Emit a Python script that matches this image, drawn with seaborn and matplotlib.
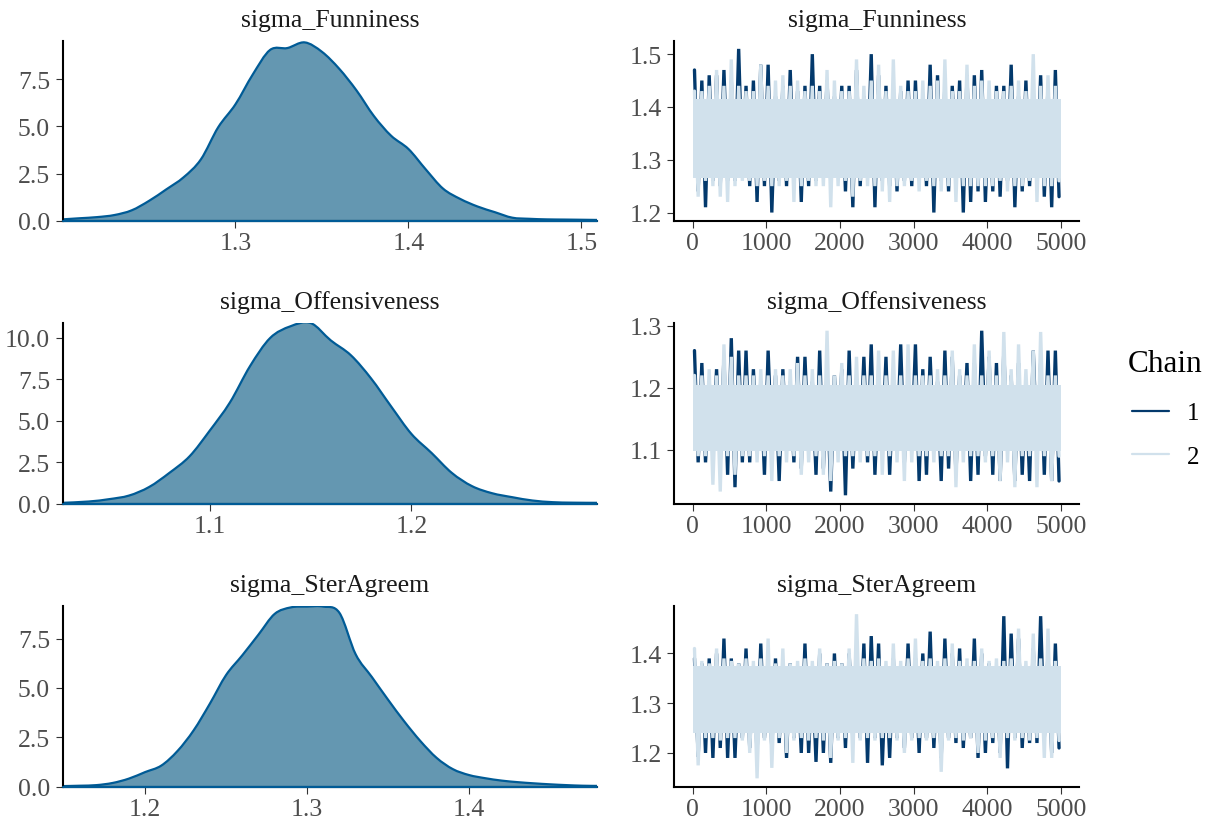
import numpy as np
import pandas as pd
import matplotlib
matplotlib.use("Agg")
import matplotlib.pyplot as plt
import seaborn as sns
from matplotlib.lines import Line2D
from matplotlib.path import Path
from matplotlib.patches import PathPatch
from matplotlib.ticker import FormatStrFormatter, FixedLocator, MultipleLocator

# ---------------- data ----------------
PARAMS = ["sigma_Funniness", "sigma_Offensiveness", "sigma_SterAgreem"]
CHAINS = ["1", "2"]
N_ITER = 5000
BIN = 100  # iterations per envelope bin

# posterior density curves (parameter value, density height)
dens_x_fun = [1.200, 1.21, 1.22, 1.23, 1.24, 1.25, 1.26, 1.27, 1.28, 1.29, 1.30,
              1.31, 1.32, 1.33, 1.34, 1.35, 1.36, 1.37, 1.38, 1.39, 1.40,
              1.41, 1.42, 1.43, 1.44, 1.45, 1.46, 1.47, 1.48, 1.49, 1.50, 1.509]
dens_y_fun = [0.07, 0.13, 0.19, 0.30, 0.55, 1.05, 1.66, 2.30, 3.25, 4.95, 6.17,
              7.75, 9.05, 9.15, 9.45, 8.95, 8.05, 6.90, 5.55, 4.50, 3.80,
              2.72, 1.70, 1.15, 0.75, 0.45, 0.16, 0.10, 0.07, 0.06, 0.05, 0.04]

dens_x_off = [1.027, 1.04, 1.05, 1.06, 1.07, 1.08, 1.09, 1.10, 1.11, 1.12, 1.13,
              1.14, 1.15, 1.16, 1.17, 1.18, 1.19, 1.20, 1.21, 1.22, 1.23,
              1.24, 1.25, 1.26, 1.27, 1.28, 1.292]
dens_y_off = [0.04, 0.12, 0.26, 0.48, 1.00, 1.85, 2.85, 4.40, 6.10, 8.30, 10.00,
              10.70, 10.90, 9.85, 8.95, 7.55, 5.85, 4.20, 3.05, 1.85, 1.05,
              0.62, 0.38, 0.18, 0.08, 0.05, 0.04]

dens_x_ster = [1.149, 1.16, 1.17, 1.18, 1.19, 1.20, 1.21, 1.22, 1.23, 1.24, 1.25,
               1.26, 1.27, 1.28, 1.29, 1.30, 1.31, 1.32, 1.33, 1.34, 1.35,
               1.36, 1.37, 1.38, 1.39, 1.40, 1.41, 1.42, 1.43, 1.44, 1.45,
               1.46, 1.47, 1.479]
dens_y_ster = [0.02, 0.04, 0.07, 0.18, 0.40, 0.73, 1.06, 1.80, 2.85, 4.20, 5.65,
               6.65, 7.70, 8.75, 9.08, 9.12, 9.12, 8.80, 6.70, 5.55, 4.40,
               3.30, 2.30, 1.45, 0.88, 0.58, 0.42, 0.30, 0.22, 0.16, 0.11,
               0.07, 0.04, 0.03]

dens_xticks = [[1.3, 1.4, 1.5], [1.1, 1.2], [1.2, 1.3, 1.4]]
dens_ymax = [9.54, 10.93, 9.15]

# trace plots: per 100-iteration bin, the highest / lowest draw of each chain,
# plus the dense central band that both chains fill
fun_c1_hi = [1.47, 1.45, 1.46, 1.46, 1.47, 1.45, 1.51, 1.44, 1.45, 1.48,
             1.48, 1.42, 1.44, 1.47, 1.43, 1.44, 1.50, 1.44, 1.45, 1.42,
             1.44, 1.44, 1.47, 1.42, 1.50, 1.46, 1.44, 1.42, 1.43, 1.45,
             1.45, 1.42, 1.48, 1.46, 1.44, 1.44, 1.45, 1.46, 1.46, 1.47,
             1.42, 1.44, 1.44, 1.48, 1.42, 1.45, 1.42, 1.46, 1.44, 1.47]
fun_c1_lo = [1.24, 1.21, 1.26, 1.25, 1.26, 1.26, 1.27, 1.25, 1.22, 1.25,
             1.20, 1.26, 1.25, 1.26, 1.22, 1.25, 1.26, 1.27, 1.26, 1.27,
             1.24, 1.21, 1.25, 1.27, 1.21, 1.26, 1.25, 1.24, 1.26, 1.25,
             1.27, 1.25, 1.20, 1.26, 1.24, 1.27, 1.20, 1.22, 1.24, 1.22,
             1.24, 1.23, 1.26, 1.21, 1.24, 1.25, 1.26, 1.23, 1.21, 1.23]
fun_c2_hi = [1.43, 1.43, 1.44, 1.47, 1.44, 1.49, 1.44, 1.43, 1.43, 1.48,
             1.44, 1.45, 1.46, 1.44, 1.45, 1.43, 1.44, 1.43, 1.47, 1.45,
             1.43, 1.43, 1.49, 1.44, 1.45, 1.48, 1.43, 1.49, 1.44, 1.43,
             1.43, 1.45, 1.44, 1.45, 1.49, 1.43, 1.43, 1.48, 1.44, 1.45,
             1.45, 1.43, 1.43, 1.44, 1.45, 1.43, 1.50, 1.44, 1.46, 1.44]
fun_c2_lo = [1.23, 1.26, 1.25, 1.23, 1.22, 1.25, 1.26, 1.26, 1.25, 1.26,
             1.25, 1.25, 1.26, 1.22, 1.25, 1.26, 1.25, 1.25, 1.21, 1.25,
             1.26, 1.23, 1.26, 1.25, 1.25, 1.24, 1.22, 1.25, 1.25, 1.26,
             1.24, 1.26, 1.25, 1.24, 1.25, 1.22, 1.25, 1.25, 1.25, 1.25,
             1.25, 1.26, 1.24, 1.25, 1.25, 1.26, 1.22, 1.25, 1.25, 1.26]
fun_band = [1.265, 1.415]

off_c1_hi = [1.26, 1.24, 1.21, 1.23, 1.25, 1.28, 1.26, 1.26, 1.23, 1.21,
             1.26, 1.22, 1.23, 1.21, 1.25, 1.25, 1.21, 1.26, 1.21, 1.22,
             1.23, 1.26, 1.21, 1.25, 1.27, 1.21, 1.25, 1.21, 1.27, 1.22,
             1.27, 1.23, 1.25, 1.21, 1.26, 1.25, 1.22, 1.24, 1.24, 1.292,
             1.25, 1.24, 1.26, 1.22, 1.24, 1.21, 1.26, 1.24, 1.26, 1.26]
off_c1_lo = [1.08, 1.08, 1.10, 1.08, 1.06, 1.04, 1.08, 1.08, 1.10, 1.06,
             1.10, 1.05, 1.10, 1.08, 1.07, 1.10, 1.06, 1.07, 1.033, 1.10,
             1.027, 1.07, 1.10, 1.08, 1.06, 1.10, 1.06, 1.10, 1.08, 1.10,
             1.05, 1.06, 1.10, 1.05, 1.07, 1.06, 1.10, 1.05, 1.06, 1.09,
             1.06, 1.05, 1.10, 1.05, 1.06, 1.05, 1.10, 1.06, 1.05, 1.05]
off_c2_hi = [1.22, 1.22, 1.23, 1.22, 1.27, 1.25, 1.22, 1.22, 1.22, 1.23,
             1.22, 1.23, 1.22, 1.23, 1.24, 1.22, 1.23, 1.22, 1.292, 1.22,
             1.24, 1.22, 1.25, 1.22, 1.22, 1.26, 1.22, 1.26, 1.22, 1.27,
             1.22, 1.22, 1.22, 1.23, 1.22, 1.26, 1.23, 1.22, 1.27, 1.22,
             1.26, 1.22, 1.29, 1.23, 1.27, 1.23, 1.26, 1.29, 1.22, 1.22]
off_c2_lo = [1.09, 1.09, 1.044, 1.033, 1.09, 1.06, 1.09, 1.09, 1.08, 1.09,
             1.05, 1.09, 1.08, 1.09, 1.06, 1.08, 1.09, 1.06, 1.05, 1.08,
             1.09, 1.09, 1.08, 1.09, 1.09, 1.06, 1.09, 1.08, 1.05, 1.08,
             1.09, 1.09, 1.08, 1.09, 1.09, 1.04, 1.08, 1.09, 1.09, 1.08,
             1.09, 1.05, 1.08, 1.04, 1.09, 1.09, 1.04, 1.09, 1.05, 1.09]
off_band = [1.098, 1.205]

ster_c1_hi = [1.39, 1.38, 1.39, 1.40, 1.43, 1.39, 1.38, 1.41, 1.37, 1.42,
              1.38, 1.39, 1.38, 1.38, 1.37, 1.42, 1.37, 1.40, 1.38, 1.40,
              1.38, 1.40, 1.38, 1.42, 1.435, 1.42, 1.37, 1.39, 1.37, 1.42,
              1.39, 1.40, 1.444, 1.37, 1.43, 1.40, 1.41, 1.37, 1.43, 1.40,
              1.38, 1.37, 1.475, 1.44, 1.43, 1.37, 1.41, 1.475, 1.40, 1.42]
ster_c1_lo = [1.192, 1.20, 1.19, 1.21, 1.19, 1.19, 1.23, 1.21, 1.20, 1.23,
              1.21, 1.22, 1.19, 1.23, 1.20, 1.20, 1.182, 1.20, 1.18, 1.23,
              1.21, 1.23, 1.23, 1.18, 1.23, 1.175, 1.19, 1.23, 1.21, 1.23,
              1.20, 1.23, 1.21, 1.19, 1.23, 1.22, 1.21, 1.23, 1.19, 1.20,
              1.22, 1.20, 1.169, 1.23, 1.21, 1.22, 1.22, 1.23, 1.20, 1.21]
ster_c2_hi = [1.41, 1.385, 1.38, 1.41, 1.39, 1.385, 1.38, 1.39, 1.385, 1.39,
              1.43, 1.38, 1.41, 1.38, 1.385, 1.39, 1.385, 1.41, 1.38, 1.385,
              1.38, 1.41, 1.479, 1.39, 1.385, 1.39, 1.385, 1.42, 1.385, 1.39,
              1.43, 1.385, 1.39, 1.385, 1.39, 1.42, 1.385, 1.39, 1.385, 1.41,
              1.385, 1.39, 1.385, 1.39, 1.45, 1.385, 1.44, 1.39, 1.45, 1.385]
ster_c2_lo = [1.175, 1.23, 1.23, 1.225, 1.23, 1.23, 1.225, 1.20, 1.149, 1.225,
              1.17, 1.23, 1.20, 1.225, 1.23, 1.225, 1.23, 1.225, 1.19, 1.225,
              1.23, 1.18, 1.225, 1.23, 1.225, 1.23, 1.23, 1.225, 1.20, 1.225,
              1.23, 1.225, 1.23, 1.162, 1.225, 1.23, 1.225, 1.23, 1.20, 1.225,
              1.23, 1.19, 1.23, 1.225, 1.23, 1.225, 1.23, 1.19, 1.19, 1.225]
ster_band = [1.24, 1.375]

DENSITIES = [(dens_x_fun, dens_y_fun), (dens_x_off, dens_y_off), (dens_x_ster, dens_y_ster)]
TRACES = [
    ([(fun_c1_hi, fun_c1_lo), (fun_c2_hi, fun_c2_lo)], fun_band),
    ([(off_c1_hi, off_c1_lo), (off_c2_hi, off_c2_lo)], off_band),
    ([(ster_c1_hi, ster_c1_lo), (ster_c2_hi, ster_c2_lo)], ster_band),
]

# ---------------- style ----------------
FILL = "#6497b1"
LINE = "#005b96"
CHAIN_COLORS = ["#03396c", "#d1e1ec"]
TICK_TXT = "#4d4d4d"

sns.set_theme(style="ticks")
plt.rcParams["font.family"] = ["Liberation Serif", "DejaVu Serif"]
plt.rcParams["axes.linewidth"] = 1.5
plt.rcParams["axes.edgecolor"] = "black"

fig = plt.figure(figsize=(12.15, 8.29), dpi=100)
W, H = 1215.0, 829.0
rows_px = [(41.7, 221.7), (323.5, 504.5), (607.0, 787.5)]
dens_cols = (62.5, 597.0)
trace_cols = (674.3, 1079.3)


def make_ax(cols, rows):
    l, r = cols
    t, b = rows
    return fig.add_axes([l / W, 1 - b / H, (r - l) / W, (b - t) / H])


def style_ax(ax, title):
    sns.despine(ax=ax)
    ax.set_title(title, fontsize=18.5, color="#1a1a1a", pad=10.5)
    ax.tick_params(axis="both", labelsize=18.5, labelcolor=TICK_TXT, color="#333333",
                   length=5, width=0.8)
    ax.tick_params(axis="y", pad=4)
    ax.tick_params(axis="x", pad=3)
    ax.set_xlabel("")
    ax.set_ylabel("")
    ax.grid(False)


def smooth_path(xv, yv):
    """Smooth (Catmull-Rom style) cubic path running through every read point."""
    p = np.column_stack([xv, yv]).astype(float)
    ext = np.vstack([p[0], p, p[-1]])
    verts = [p[0]]
    codes = [Path.MOVETO]
    for k in range(len(p) - 1):
        p0, p1, p2, p3 = ext[k], ext[k + 1], ext[k + 2], ext[k + 3]
        verts += [p1 + (p2 - p0) / 6.0, p2 - (p3 - p1) / 6.0, p2]
        codes += [Path.CURVE4] * 3
    return np.array(verts), codes


for i, param in enumerate(PARAMS):
    # ---- density panel ----
    ax = make_ax(dens_cols, rows_px[i])
    gx, gy = DENSITIES[i]
    verts, codes = smooth_path(gx, gy)
    fill_verts = np.vstack([verts, [[max(gx), 0], [min(gx), 0], [min(gx), 0]]])
    fill_codes = codes + [Path.LINETO, Path.LINETO, Path.CLOSEPOLY]
    ax.add_patch(PathPatch(Path(fill_verts, fill_codes), facecolor=FILL,
                           edgecolor="none", lw=0, zorder=1))
    ax.add_patch(PathPatch(Path(verts, codes), facecolor="none", edgecolor=LINE,
                           lw=1.6, zorder=2, capstyle="round", joinstyle="round"))
    ax.axhline(0, color=LINE, lw=1.6, zorder=3, clip_on=False)
    ax.set_xlim(min(gx), max(gx))
    ax.set_ylim(0, dens_ymax[i])
    ax.xaxis.set_major_locator(FixedLocator(dens_xticks[i]))
    ax.yaxis.set_major_locator(MultipleLocator(2.5))
    ax.xaxis.set_major_formatter(FormatStrFormatter("%.1f"))
    ax.yaxis.set_major_formatter(FormatStrFormatter("%.1f"))
    style_ax(ax, param)

    # ---- trace panel ----
    ax = make_ax(trace_cols, rows_px[i])
    chains, band = TRACES[i]
    frames = []
    all_vals = []
    for c, (hi, lo) in enumerate(chains):
        hi = np.asarray(hi)
        lo = np.asarray(lo)
        starts = np.arange(len(hi)) * BIN
        # each chain swings from its bin high to its bin low
        x_hi = starts + 0.25 * BIN
        x_lo = starts + 0.75 * BIN
        xs = np.concatenate([x_hi, x_lo])
        ys = np.concatenate([hi, lo])
        order = np.argsort(xs, kind="stable")
        frames.append(pd.DataFrame({"iteration": xs[order], "value": ys[order],
                                    "Chain": CHAINS[c]}))
        ax.fill_between([1, N_ITER], band[0], band[1], color=CHAIN_COLORS[c],
                        linewidth=0, zorder=2 + 2 * c)
        all_vals.extend(hi.tolist() + lo.tolist())
    df = pd.concat(frames, ignore_index=True)
    sns.lineplot(data=df, x="iteration", y="value", hue="Chain", hue_order=CHAINS,
                 palette=CHAIN_COLORS, sort=False, estimator=None, legend=False,
                 lw=2.4, ax=ax)
    for c, ln in enumerate(ax.lines[:2]):
        ln.set_zorder(3 + 2 * c)
        ln.set_solid_joinstyle("miter")
    vmin, vmax = min(all_vals), max(all_vals)
    pad = 0.05 * (vmax - vmin)
    ax.set_ylim(vmin - pad, vmax + pad)
    xpad = 0.05 * (N_ITER - 1)
    ax.set_xlim(1 - xpad, N_ITER + xpad)
    ax.xaxis.set_major_locator(MultipleLocator(1000))
    ax.yaxis.set_major_locator(MultipleLocator(0.1))
    ax.xaxis.set_major_formatter(FormatStrFormatter("%d"))
    ax.yaxis.set_major_formatter(FormatStrFormatter("%.1f"))
    style_ax(ax, param)

# legend: title as its own text, entries below
fig.text(1128 / W, 1 - 372 / H, "Chain", fontsize=22.5, color="black",
         ha="left", va="baseline")
handles = [Line2D([], [], color=CHAIN_COLORS[c], lw=1.6) for c in range(len(CHAINS))]
leg = fig.legend(handles, CHAINS, loc="center left",
                 bbox_to_anchor=(1109 / W, 1 - 436 / H), frameon=False,
                 fontsize=18, handlelength=1.48, handletextpad=0.75,
                 labelspacing=0.85)
for t in leg.get_texts():
    t.set_color("black")

fig.savefig("out.png", dpi=100)
